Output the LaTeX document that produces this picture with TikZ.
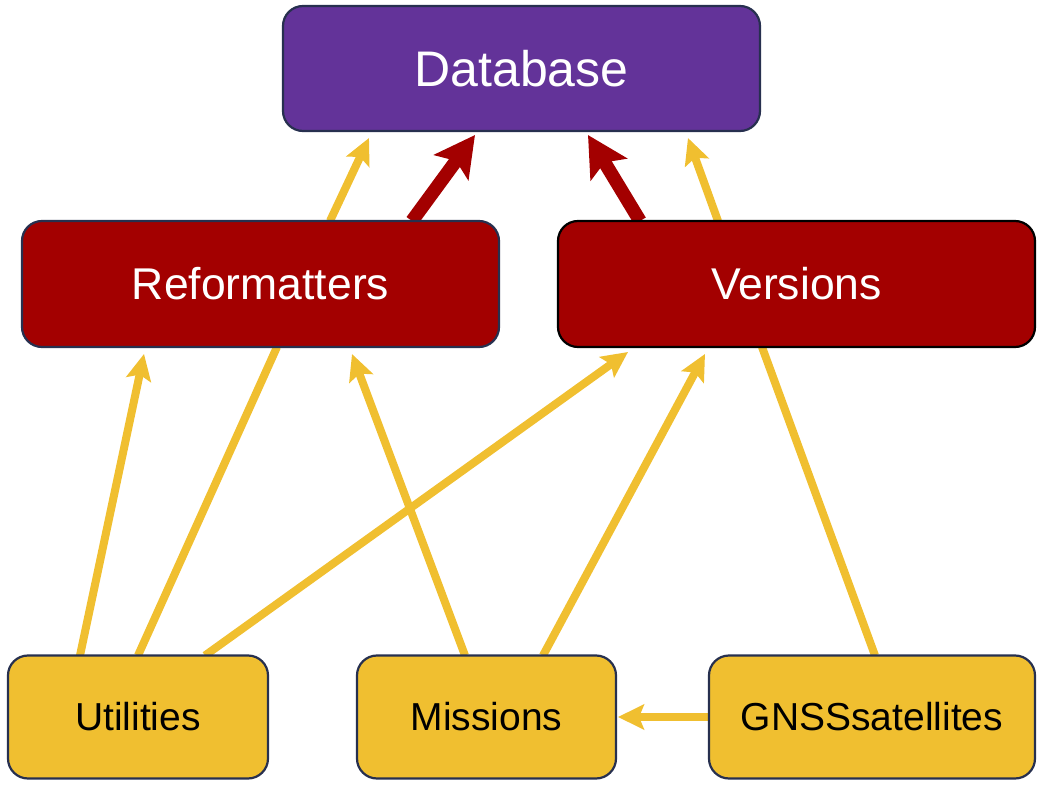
\documentclass[tikz,border=0pt]{standalone}
\usepackage{fontspec}
\setmainfont{Liberation Sans}
\usetikzlibrary{positioning, arrows.meta, backgrounds}
\definecolor{dbpurple}{HTML}{633399}
\definecolor{darkred}{HTML}{A30000}
\definecolor{mustard}{HTML}{F0BF30}
\definecolor{navy}{HTML}{27304F}
\tikzset{
	dbbox/.style={
		rectangle,
		draw=navy,
		line width=2.2pt,
		rounded corners=20pt,
		fill=dbpurple,
		text=white,
		minimum width=477pt,
		minimum height=125pt,
		font=\fontsize{50pt}{56pt}\selectfont,
	},
	redbox/.style={
		rectangle,
		draw=navy,
		line width=2.2pt,
		rounded corners=20pt,
		fill=darkred,
		text=white,
		minimum width=477pt,
		minimum height=126pt,
		font=\fontsize{44.5pt}{50pt}\selectfont,
	},
	yellowbox/.style={
		rectangle,
		draw=navy,
		line width=2.2pt,
		rounded corners=20pt,
		fill=mustard,
		text=black,
		minimum height=123pt,
		font=\fontsize{39pt}{44pt}\selectfont,
	},
	yline/.style={
		draw=mustard,
		line width=8pt,
	},
	yarrow/.style={
		yline,
		-{Stealth[length=26pt,width=25pt,inset=5pt]},
	},
	rarrow/.style={
		draw=darkred,
		line width=13.5pt,
		-{Stealth[length=40pt,width=42pt,inset=8pt]},
	},
}
\begin{document}
\begin{tikzpicture}[node distance=2cm, inner sep=0pt, outer sep=0pt]
		\useasboundingbox (-521.5pt,68.5pt) rectangle (523.5pt,-720.5pt);
		
		\node [dbbox] (db) {Database};
		\node [redbox, node distance=215.5pt, below of = db, xshift=-261pt] (ref) {Reformatters};
		\node [redbox, draw=black, node distance=536pt, right of = ref] (ver) {Versions};
		\node [yellowbox, minimum width=260pt, node distance=433pt, below of = ref, xshift=-122.5pt] (util) {Utilities};
		\node [yellowbox, minimum width=259pt, node distance=348.5pt, right of = util] (mis) {Missions};
		\node [yellowbox, minimum width=326pt, node distance=385.5pt, right of = mis] (gnss) {GNSSsatellites};
		
		\begin{pgfonlayer}{background}
		\draw [yarrow] ([xshift=69.5pt]ref.north) -- ([xshift=-152.5pt, yshift=-7pt]db.south);
		\draw [rarrow] ([xshift=151.5pt]ref.north) -- ([xshift=-46.5pt, yshift=-4pt]db.south);
		\draw [rarrow] ([xshift=-156.5pt]ver.north) -- ([xshift=66.5pt, yshift=-4pt]db.south);
		\draw [yarrow] ([xshift=-78.5pt]ver.north) -- ([xshift=166.5pt, yshift=-7pt]db.south);
		\draw [yarrow] ([xshift=-58pt]util.north) -- ([xshift=-116.5pt, yshift=-7pt]ref.south);
		\draw [yline] (util.north) -- ([xshift=16.5pt]ref.south);
		\draw [yarrow] ([xshift=67pt]util.north) -- ([xshift=-168.5pt, yshift=-5pt]ver.south);
		\draw [yarrow] ([xshift=-21.5pt]mis.north) -- ([xshift=91.5pt, yshift=-7pt]ref.south);
		\draw [yarrow] ([xshift=56.5pt]mis.north) -- ([xshift=-91.5pt, yshift=-7pt]ver.south);
		\draw [yline] ([xshift=3pt]gnss.north) -- ([xshift=-34.5pt]ver.south);
		\draw [yarrow] (gnss.west) -- ([xshift=2pt]mis.east);
		\end{pgfonlayer}
	\end{tikzpicture}
\end{document}
